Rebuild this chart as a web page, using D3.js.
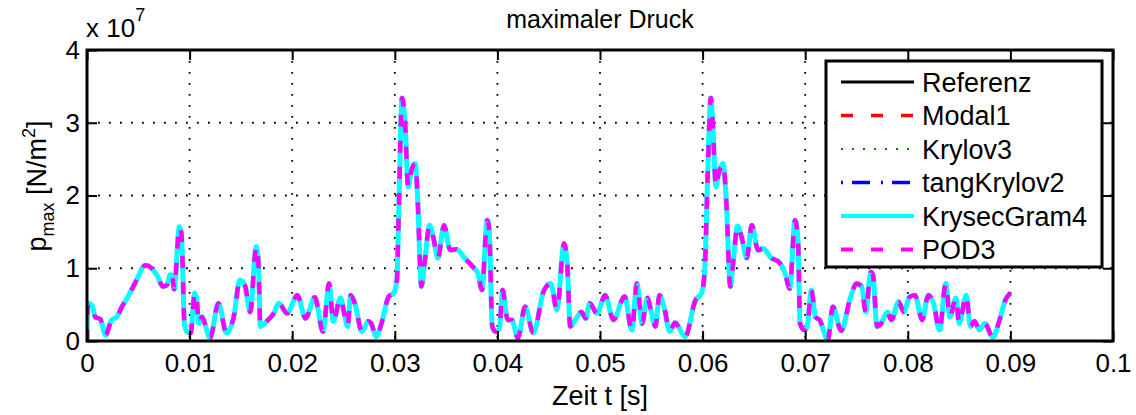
<!DOCTYPE html>
<html>
<head>
<meta charset="utf-8">
<script src="https://cdn.jsdelivr.net/npm/d3@7"></script>
<style>
  html, body { margin: 0; padding: 0; background: #fff; }
  svg { display: block; font-family: 'Liberation Sans', Arial, sans-serif; }
</style>
</head>
<body>
<svg id="chart" width="1136" height="415"></svg>
<script>
// time axis [s]
const zeit = [
  0, 0.0001, 0.0005, 0.0008, 0.0013, 0.0018, 0.0024, 0.0029, 0.0034, 0.0040,
  0.0047, 0.0057, 0.0063, 0.0068, 0.0074, 0.0078, 0.0081, 0.0083, 0.0085, 0.0090,
  0.0092, 0.0095, 0.0097, 0.0101, 0.0105, 0.0107, 0.0109, 0.0112, 0.0120, 0.0128,
  0.0136, 0.0143, 0.0149, 0.0154, 0.0159, 0.0165, 0.0167, 0.0169, 0.0175, 0.0182,
  0.0187, 0.0195, 0.0205, 0.0213, 0.0222, 0.0230, 0.0236, 0.0240, 0.0247, 0.0251,
  0.0254, 0.0257, 0.0261, 0.0268, 0.0274, 0.0277, 0.0282, 0.0287, 0.0294, 0.0299,
  0.0302, 0.0304, 0.0307, 0.0310, 0.0313, 0.0316, 0.0320, 0.0322, 0.0326, 0.0329,
  0.0334, 0.0338, 0.0342, 0.0348, 0.0354, 0.0360, 0.0368, 0.0376, 0.0381, 0.0385,
  0.0390, 0.0392, 0.0395, 0.0398, 0.0402, 0.0405, 0.0410, 0.0414, 0.0420, 0.0427,
  0.0435, 0.0445, 0.0452, 0.0458, 0.0465, 0.0468, 0.0471, 0.0476, 0.0482, 0.0486,
  0.0490, 0.0497, 0.0505, 0.0513, 0.0524, 0.0531, 0.0536, 0.0541, 0.0546, 0.0550,
  0.0554, 0.0558, 0.0563, 0.0568, 0.0573, 0.0583, 0.0593, 0.0599, 0.0602, 0.0605,
  0.0608, 0.0610, 0.0613, 0.0615, 0.0620, 0.0623, 0.0627, 0.0630, 0.0634, 0.0638,
  0.0643, 0.0648, 0.0654, 0.0659, 0.0667, 0.0674, 0.0680, 0.0685, 0.0690, 0.0693,
  0.0695, 0.0699, 0.0702, 0.0706, 0.0710, 0.0714, 0.0722, 0.0727, 0.0735, 0.0744,
  0.0750, 0.0755, 0.0759, 0.0764, 0.0766, 0.0770, 0.0774, 0.0780, 0.0784, 0.0791,
  0.0796, 0.0802, 0.0807, 0.0814, 0.0820, 0.0825, 0.0831, 0.0837, 0.0841, 0.0847,
  0.0850, 0.0857, 0.0861, 0.0865, 0.0870, 0.0875, 0.0883, 0.0889, 0.0895, 0.0900
];

// max. pressure, in units of 1e7 N/m^2 (all models lie on top of the reference)
const pReferenz = [
  0, 0.52, 0.49, 0.33, 0.30, 0.08, 0.29, 0.33, 0.47, 0.61,
  0.80, 1.04, 1.00, 0.91, 0.75, 0.77, 0.91, 0.90, 0.71, 1.57,
  1.48, 0.24, 0.13, 0.11, 0.66, 0.56, 0.24, 0.33, 0.04, 0.52,
  0.11, 0.33, 0.84, 0.76, 0.40, 1.30, 1.09, 0.20, 0.27, 0.38,
  0.52, 0.38, 0.63, 0.31, 0.60, 0.13, 0.79, 0.27, 0.59, 0.36,
  0.20, 0.63, 0.52, 0.13, 0.27, 0.24, 0.06, 0.24, 0.61, 0.66,
  0.84, 1.85, 3.34, 2.99, 2.12, 2.33, 2.44, 2.03, 0.75, 1.07,
  1.59, 1.39, 1.14, 1.59, 1.25, 1.26, 1.14, 1.02, 0.93, 0.70,
  1.66, 1.53, 0.20, 0.13, 0.17, 0.70, 0.29, 0.29, 0.04, 0.47,
  0.11, 0.68, 0.79, 0.43, 1.34, 1.07, 0.20, 0.29, 0.40, 0.31,
  0.52, 0.38, 0.63, 0.29, 0.61, 0.15, 0.79, 0.24, 0.59, 0.40,
  0.20, 0.63, 0.43, 0.13, 0.25, 0.06, 0.56, 0.66, 0.95, 2.30,
  3.34, 2.95, 2.12, 2.26, 2.44, 1.94, 0.75, 1.11, 1.58, 1.43,
  1.14, 1.59, 1.25, 1.27, 1.14, 1.09, 0.95, 0.72, 1.66, 1.39,
  0.24, 0.15, 0.20, 0.70, 0.33, 0.29, 0.02, 0.47, 0.14, 0.59,
  0.79, 0.75, 0.40, 0.95, 0.91, 0.20, 0.24, 0.40, 0.29, 0.54,
  0.40, 0.61, 0.63, 0.29, 0.63, 0.52, 0.15, 0.79, 0.33, 0.59,
  0.24, 0.63, 0.20, 0.27, 0.15, 0.24, 0.05, 0.27, 0.56, 0.66
];

const seriesNames = ['Referenz', 'Modal1', 'Krylov3', 'tangKrylov2', 'KrysecGram4', 'POD3'];
const xTicks = [0, 0.01, 0.02, 0.03, 0.04, 0.05, 0.06, 0.07, 0.08, 0.09, 0.1];
const yTicks = [0, 1, 2, 3, 4];

// line styles, MATLAB-ish
const styles = {
  Referenz:    { color: '#000000', width: 3,   dash: null },
  Modal1:      { color: '#ff0000', width: 3.5, dash: '12,18' },
  Krylov3:     { color: '#008000', width: 2,   dash: '2,9' },
  tangKrylov2: { color: '#0000ff', width: 3.5, dash: '2,9,18,11' },
  KrysecGram4: { color: '#00ffff', width: 5,   dash: null },
  POD3:        { color: '#ff00ff', width: 4.5, dash: '12,14' }
};

const svg = d3.select('#chart');
const margin = { top: 50, right: 23, bottom: 74, left: 87 };
const width = +svg.attr('width') - margin.left - margin.right;
const height = +svg.attr('height') - margin.top - margin.bottom;

const x = d3.scaleLinear().domain([0, 0.1]).range([0, width]);
const y = d3.scaleLinear().domain([0, 4]).range([height, 0]);

const g = svg.append('g')
  .attr('transform', 'translate(' + margin.left + ',' + margin.top + ')');

// dotted grid
g.append('g')
  .selectAll('line')
  .data(xTicks.slice(1, -1))
  .enter()
  .append('line')
  .attr('x1', d => x(d)).attr('x2', d => x(d))
  .attr('y1', 0).attr('y2', height)
  .attr('stroke', '#000').attr('stroke-width', 1.8)
  .attr('stroke-dasharray', '1.8,9.2');

g.append('g')
  .selectAll('line')
  .data(yTicks.slice(1, -1))
  .enter()
  .append('line')
  .attr('y1', d => y(d)).attr('y2', d => y(d))
  .attr('x1', 0).attr('x2', width)
  .attr('stroke', '#000').attr('stroke-width', 1.8)
  .attr('stroke-dasharray', '1.8,9.2');

// curves
const points = zeit.map((t, i) => ({ t: t, p: pReferenz[i] }));
const line = d3.line()
  .x(d => x(d.t))
  .y(d => y(d.p))
  .curve(d3.curveMonotoneX);

g.append('clipPath').attr('id', 'plotclip')
  .append('rect').attr('width', width).attr('height', height);

const curves = g.append('g').attr('clip-path', 'url(#plotclip)');
seriesNames.forEach(name => {
  const s = styles[name];
  curves.append('path')
    .datum(points)
    .attr('d', line)
    .attr('fill', 'none')
    .attr('stroke', s.color)
    .attr('stroke-width', s.width)
    .attr('stroke-linejoin', 'round')
    .attr('stroke-dasharray', s.dash);
});

// axes: ticks inside, on all four sides
const font = 26;
const axisBottom = d3.axisBottom(x).tickValues(xTicks).tickSizeInner(-10).tickSizeOuter(0)
  .tickPadding(13).tickFormat(d3.format('~g'));
const axisLeft = d3.axisLeft(y).tickValues(yTicks).tickSizeInner(-10).tickSizeOuter(0)
  .tickPadding(7).tickFormat(d3.format('d'));

const gx = g.append('g').attr('transform', 'translate(0,' + height + ')').call(axisBottom);
const gy = g.append('g').call(axisLeft);
g.append('g').call(d3.axisTop(x).tickValues(xTicks).tickSizeInner(-10).tickSizeOuter(0).tickFormat(''));
g.append('g').attr('transform', 'translate(' + width + ',0)')
  .call(d3.axisRight(y).tickValues(yTicks).tickSizeInner(-10).tickSizeOuter(0).tickFormat(''));

g.selectAll('.domain').remove();
g.selectAll('.tick line').attr('stroke', '#000').attr('stroke-width', 2);
[gx, gy].forEach(ax => ax.selectAll('text')
  .attr('font-size', font).attr('fill', '#000')
  .attr('font-family', "'Liberation Sans', Arial, sans-serif"));

g.append('rect')
  .attr('width', width).attr('height', height)
  .attr('fill', 'none').attr('stroke', '#000').attr('stroke-width', 3);

// legend
const lg = svg.append('g').attr('transform', 'translate(826,61)');
lg.append('rect')
  .attr('width', 276).attr('height', 206)
  .attr('fill', '#fff').attr('stroke', '#000').attr('stroke-width', 3);

const entry = lg.selectAll('g.entry')
  .data(seriesNames)
  .enter()
  .append('g')
  .attr('class', 'entry')
  .attr('transform', (d, i) => 'translate(0,' + (21 + i * 33.5) + ')');

entry.append('line')
  .attr('x1', 15).attr('x2', 88)
  .attr('stroke', d => styles[d].color)
  .attr('stroke-width', d => Math.min(styles[d].width, 4))
  .attr('stroke-dasharray', d => d === 'POD3' ? '12,18' : styles[d].dash);

entry.append('text')
  .attr('x', 96).attr('dy', '0.36em')
  .attr('font-size', 27)
  .text(d => d);

// title and labels
svg.append('text')
  .attr('x', margin.left + width / 2).attr('y', 28)
  .attr('text-anchor', 'middle').attr('font-size', 25)
  .text('maximaler Druck');

const expo = svg.append('text')
  .attr('x', 86).attr('y', 37).attr('font-size', 26);
expo.append('tspan').text('x 10');
expo.append('tspan').attr('dy', -16).attr('font-size', 18).text('7');

svg.append('text')
  .attr('x', margin.left + width / 2).attr('y', 405)
  .attr('text-anchor', 'middle').attr('font-size', 27)
  .text('Zeit t [s]');

const ylab = svg.append('text')
  .attr('transform', 'translate(46,' + 186 + ') rotate(-90)')
  .attr('text-anchor', 'middle').attr('font-size', 27);
ylab.append('tspan').text('p');
ylab.append('tspan').attr('dy', 8).attr('font-size', 18).text('max');
ylab.append('tspan').attr('dy', -8).text(' [N/m');
ylab.append('tspan').attr('dy', -11).attr('font-size', 18).text('2');
ylab.append('tspan').attr('dy', 11).text(']');
</script>
</body>
</html>
